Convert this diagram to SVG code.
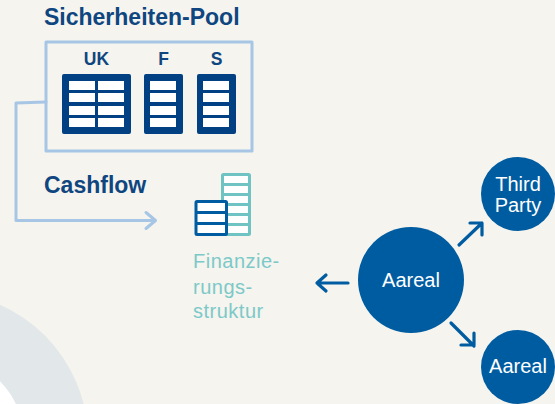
<svg xmlns="http://www.w3.org/2000/svg" width="555" height="404" viewBox="0 0 555 404">
<style>
text{font-family:"Liberation Sans",Arial,sans-serif}
.h{font-size:23px;font-weight:bold;fill:#0f4680}
.t{font-size:17.500px;font-weight:bold;fill:#0f4680;text-anchor:middle}
.w{fill:#fff;font-size:20px;text-anchor:middle}
.f{font-size:20px;fill:#7cc9c9;letter-spacing:.5px}
.tb{fill:#004083}
.r{fill:#fff}
.c{fill:#005ca1}
.pool{fill:none;stroke:#a7c6e6;stroke-width:3;stroke-linejoin:round}
.lb{fill:none;stroke:#a7c6e6;stroke-width:3;stroke-linecap:round;stroke-linejoin:round}
.ar{fill:none;stroke:#005ca1;stroke-width:3.2;stroke-linecap:round;stroke-linejoin:round}
.teal{fill:none;stroke:#6fc3c3;stroke-width:3}
.blue{fill:#fff;stroke:#005ca1;stroke-width:3}
</style>
<rect width="555" height="404" fill="#f5f4ee"/>
<circle cx="-60" cy="440" r="148" fill="#e2e7ea"/>
<circle cx="-60" cy="440" r="84" fill="#fff"/>
<g id="pool">
<text class="h" x="44" y="25">Sicherheiten-Pool</text>
<rect class="pool" x="46" y="42" width="206" height="109"/>
<text class="t" x="96.500" y="65">UK</text>
<text class="t" x="163.500" y="65">F</text>
<text class="t" x="216.500" y="65">S</text>
<rect class="tb" x="62" y="74" width="69" height="60" rx="2"/>
<rect class="tb" x="144" y="74" width="39" height="60" rx="2"/>
<rect class="tb" x="197" y="74" width="39" height="60" rx="2"/>
<g class="r">
<rect x="69" y="81" width="26" height="9"/><rect x="98" y="81" width="26" height="9"/>
<rect x="69" y="93" width="26" height="9"/><rect x="98" y="93" width="26" height="9"/>
<rect x="69" y="106" width="26" height="9"/><rect x="98" y="106" width="26" height="9"/>
<rect x="69" y="118" width="26" height="9"/><rect x="98" y="118" width="26" height="9"/>
<rect x="150" y="81" width="26" height="9"/><rect x="150" y="93" width="26" height="9"/>
<rect x="150" y="106" width="26" height="9"/><rect x="150" y="118" width="26" height="9"/>
<rect x="203" y="81" width="26" height="9"/><rect x="203" y="93" width="26" height="9"/>
<rect x="203" y="106" width="26" height="9"/><rect x="203" y="118" width="26" height="9"/>
</g>
</g>
<g id="cashflow-label"><text class="h" x="44" y="192.500">Cashflow</text></g>
<g id="finanzierung">
<rect x="222.500" y="174.500" width="27" height="60" rx="1" fill="#fff" stroke="#6fc3c3" stroke-width="3"/>
<path class="teal" d="M222 184.500H250M222 194.500H250M222 204.500H250M222 214.500H250M222 224.500H250"/>
<rect class="blue" x="196" y="201.500" width="30.500" height="33" rx="1"/>
<path class="blue" d="M196 212.500H226M196 223.500H226"/>
<text class="f" x="193" y="268">Finanzie-</text>
<text class="f" x="193" y="293.500">rungs-</text>
<text class="f" x="193" y="318">struktur</text>
</g>
<g id="connectors">
<path class="lb" d="M46 102L16 103V220.500H155M146 212.500L155.500 220.500L146 228.500"/>
<path class="ar" d="M348 283H317M326 275L317 283L326 291"/>
<path class="ar" d="M459 245L482 223M470 223H482V235"/>
<path class="ar" d="M451 323L474 346M461 345H474V333"/>
</g>
<g id="aareal-main"><circle class="c" cx="411" cy="280" r="53"/><text class="w" x="411" y="287">Aareal</text></g>
<g id="third-party"><circle class="c" cx="518" cy="194" r="37"/><text class="w" x="518" y="191">Third</text><text class="w" x="518" y="211.500">Party</text></g>
<g id="aareal-lower"><circle class="c" cx="518" cy="367" r="37"/><text class="w" x="518" y="373">Aareal</text></g>
</svg>
